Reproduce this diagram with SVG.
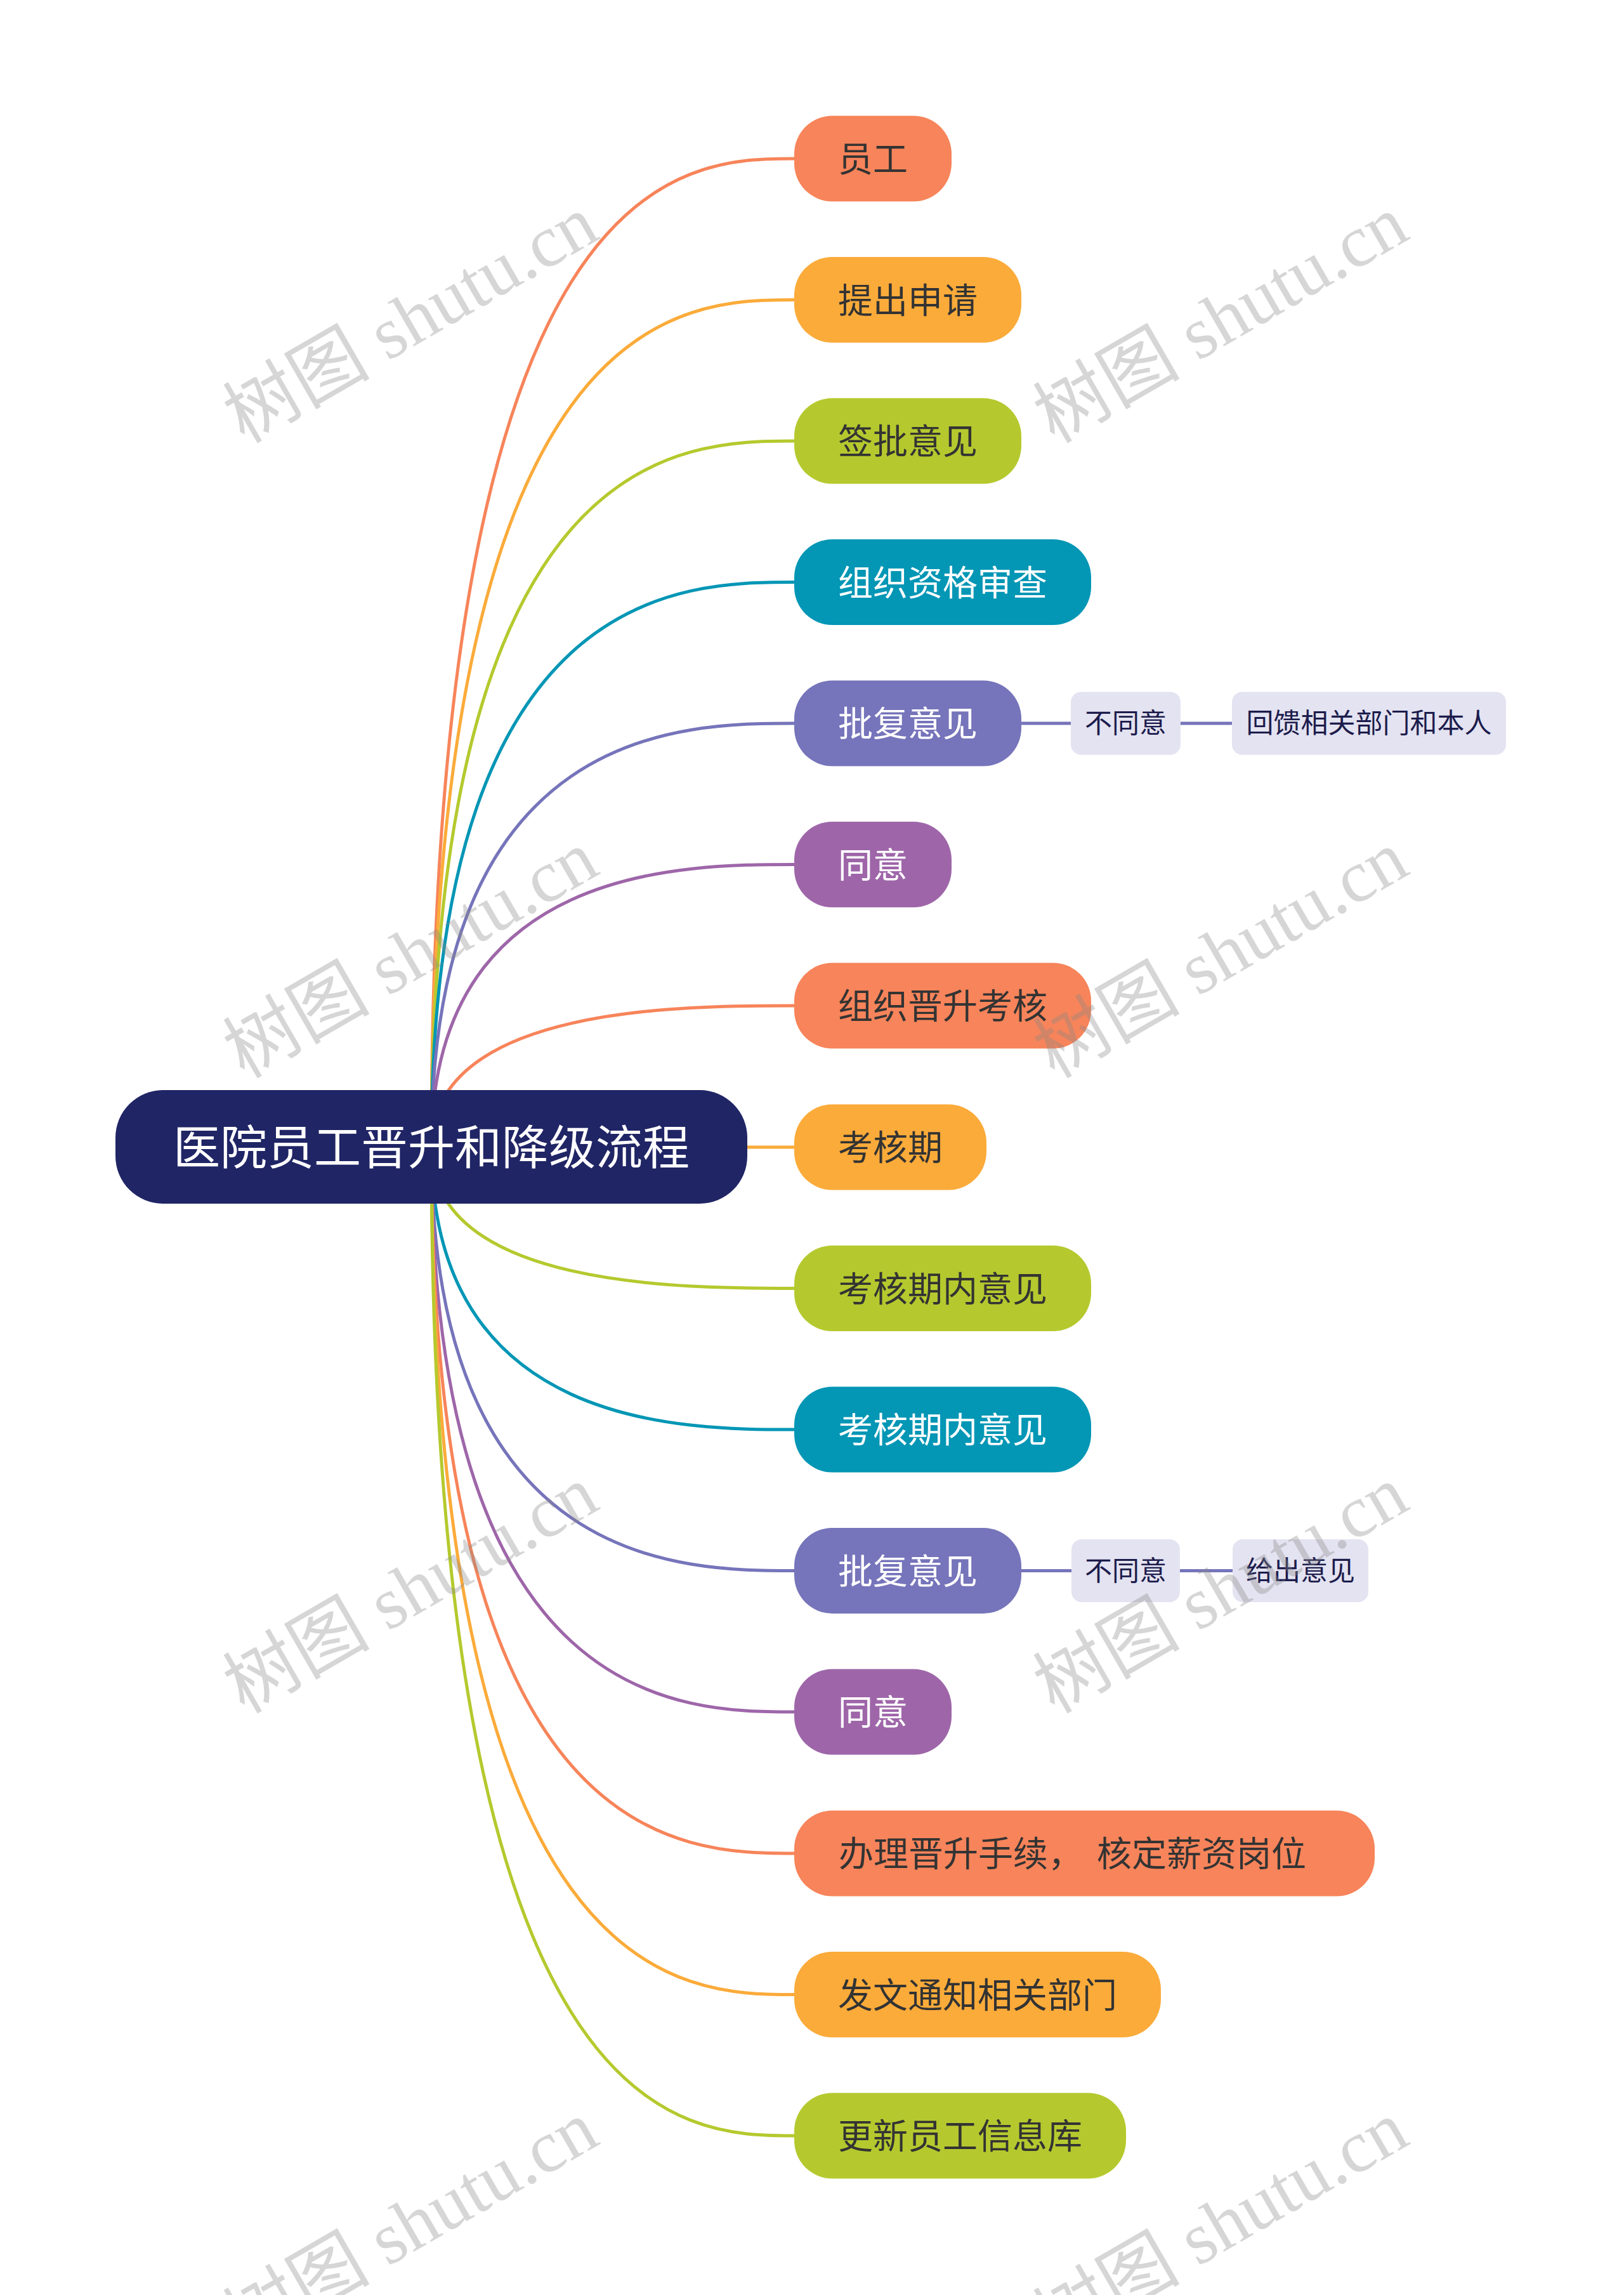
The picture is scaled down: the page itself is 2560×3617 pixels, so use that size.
<svg xmlns="http://www.w3.org/2000/svg" width="2560" height="3617" viewBox="0 0 2560 3617">
<style>
.bg{fill:#ffffff}
.conn{fill:none;stroke-width:5;stroke-linecap:round}
.sub-conn{fill:none;stroke:#7674BA;stroke-width:5}
.node rect{stroke:none}
.t{font-family:"Noto Sans CJK SC","Noto Sans",sans-serif;font-size:55px}
.dark{fill:#333333}
.light{fill:#ffffff}
.root-t{font-family:"Noto Sans CJK SC","Noto Sans",sans-serif;font-size:74px;fill:#ffffff}
.sub rect{fill:#E4E3F1}
.st{font-family:"Noto Sans CJK SC","Noto Sans",sans-serif;font-size:43px;fill:#1c1c4c;text-anchor:middle}
.c1{fill:#F7845A}.s1{stroke:#F7845A}
.c2{fill:#FBAB3A}.s2{stroke:#FBAB3A}
.c3{fill:#B5C92E}.s3{stroke:#B5C92E}
.c4{fill:#0396B5}.s4{stroke:#0396B5}
.c5{fill:#7674BA}.s5{stroke:#7674BA}
.c6{fill:#9E66A9}.s6{stroke:#9E66A9}
.wm{font-family:"Liberation Serif","Noto Sans CJK SC",serif;font-size:116px;fill:#888888;opacity:0.34}
</style>
<rect class="bg" x="0" y="0" width="2560" height="3617"/>

<g id="connectors">
<path class="conn s1" d="M680 1808 C680 250 1077 250 1252 250"/>
<path class="conn s2" d="M680 1808 C680 472.5 1077 472.5 1252 472.5"/>
<path class="conn s3" d="M680 1808 C680 695 1077 695 1252 695"/>
<path class="conn s4" d="M680 1808 C680 917.5 1077 917.5 1252 917.5"/>
<path class="conn s5" d="M680 1808 C680 1140 1077 1140 1252 1140"/>
<path class="conn s6" d="M680 1808 C680 1362.5 1077 1362.5 1252 1362.5"/>
<path class="conn s1" d="M680 1808 C680 1585 1077 1585 1252 1585"/>
<path class="conn s2" d="M680 1808 L1252 1808"/>
<path class="conn s3" d="M680 1808 C680 2030.5 1077 2030.5 1252 2030.5"/>
<path class="conn s4" d="M680 1808 C680 2253 1077 2253 1252 2253"/>
<path class="conn s5" d="M680 1808 C680 2475.5 1077 2475.5 1252 2475.5"/>
<path class="conn s6" d="M680 1808 C680 2698 1077 2698 1252 2698"/>
<path class="conn s1" d="M680 1808 C680 2921 1077 2921 1252 2921"/>
<path class="conn s2" d="M680 1808 C680 3143.5 1077 3143.5 1252 3143.5"/>
<path class="conn s3" d="M680 1808 C680 3366 1077 3366 1252 3366"/>
<line class="sub-conn" x1="1608" y1="1140" x2="1690" y2="1140"/>
<line class="sub-conn" x1="1859" y1="1140" x2="1944" y2="1140"/>
<line class="sub-conn" x1="1608" y1="2475.5" x2="1691" y2="2475.5"/>
<line class="sub-conn" x1="1858" y1="2475.5" x2="1945" y2="2475.5"/>
</g>

<g id="root">
<rect x="182" y="1718" width="996" height="179" rx="75" ry="75" fill="#202565"/>
<text class="root-t" x="680" y="1835" text-anchor="middle">医院员工晋升和降级流程</text>
</g>

<g id="n1" class="node"><rect class="c1" x="1252" y="182.5" width="248" height="135" rx="60"/><text class="t dark" x="1376" y="270" text-anchor="middle">员工</text></g>
<g id="n2" class="node"><rect class="c2" x="1252" y="405" width="358" height="135" rx="60"/><text class="t dark" x="1431" y="492.5" text-anchor="middle">提出申请</text></g>
<g id="n3" class="node"><rect class="c3" x="1252" y="627.5" width="358" height="135" rx="60"/><text class="t dark" x="1431" y="715" text-anchor="middle">签批意见</text></g>
<g id="n4" class="node"><rect class="c4" x="1252" y="850" width="468" height="135" rx="60"/><text class="t light" x="1486" y="937.5" text-anchor="middle">组织资格审查</text></g>
<g id="n5" class="node"><rect class="c5" x="1252" y="1072.5" width="358" height="135" rx="60"/><text class="t light" x="1431" y="1160" text-anchor="middle">批复意见</text></g>
<g id="n6" class="node"><rect class="c6" x="1252" y="1295" width="248" height="135" rx="60"/><text class="t light" x="1376" y="1382.5" text-anchor="middle">同意</text></g>
<g id="n7" class="node"><rect class="c1" x="1252" y="1517.5" width="468" height="135" rx="60"/><text class="t dark" x="1486" y="1605" text-anchor="middle">组织晋升考核</text></g>
<g id="n8" class="node"><rect class="c2" x="1252" y="1740.5" width="303" height="135" rx="60"/><text class="t dark" x="1403.5" y="1828" text-anchor="middle">考核期</text></g>
<g id="n9" class="node"><rect class="c3" x="1252" y="1963" width="468" height="135" rx="60"/><text class="t dark" x="1486" y="2050.5" text-anchor="middle">考核期内意见</text></g>
<g id="n10" class="node"><rect class="c4" x="1252" y="2185.5" width="468" height="135" rx="60"/><text class="t light" x="1486" y="2273" text-anchor="middle">考核期内意见</text></g>
<g id="n11" class="node"><rect class="c5" x="1252" y="2408" width="358" height="135" rx="60"/><text class="t light" x="1431" y="2495.5" text-anchor="middle">批复意见</text></g>
<g id="n12" class="node"><rect class="c6" x="1252" y="2630.5" width="248" height="135" rx="60"/><text class="t light" x="1376" y="2718" text-anchor="middle">同意</text></g>
<g id="n13" class="node"><rect class="c1" x="1252" y="2853.5" width="915" height="135" rx="60"/><text class="t dark" x="1322" y="2941">办理晋升手续， <tspan x="1729">核定薪资岗位</tspan></text></g>
<g id="n14" class="node"><rect class="c2" x="1252" y="3076" width="578" height="135" rx="60"/><text class="t dark" x="1541" y="3163.5" text-anchor="middle">发文通知相关部门</text></g>
<g id="n15" class="node"><rect class="c3" x="1252" y="3298.5" width="523" height="135" rx="60"/><text class="t dark" x="1513.5" y="3386" text-anchor="middle">更新员工信息库</text></g>

<g id="s1" class="sub"><rect x="1688" y="1090.5" width="173" height="99" rx="16"/><text class="st" x="1774.5" y="1155">不同意</text></g>
<g id="s2" class="sub"><rect x="1942" y="1090.5" width="432" height="99" rx="16"/><text class="st" x="2158" y="1155">回馈相关部门和本人</text></g>
<g id="s3" class="sub"><rect x="1689" y="2426" width="171" height="99" rx="16"/><text class="st" x="1774.5" y="2490.5">不同意</text></g>
<g id="s4" class="sub"><rect x="1943" y="2426" width="214" height="99" rx="16"/><text class="st" x="2050" y="2490.5">给出意见</text></g>

<g id="watermarks">
<text class="wm" transform="translate(385 700) rotate(-30)">树图 shutu.cn</text>
<text class="wm" transform="translate(1662 700) rotate(-30)">树图 shutu.cn</text>
<text class="wm" transform="translate(385 1701) rotate(-30)">树图 shutu.cn</text>
<text class="wm" transform="translate(1662 1701) rotate(-30)">树图 shutu.cn</text>
<text class="wm" transform="translate(385 2702) rotate(-30)">树图 shutu.cn</text>
<text class="wm" transform="translate(1662 2702) rotate(-30)">树图 shutu.cn</text>
<text class="wm" transform="translate(385 3703) rotate(-30)">树图 shutu.cn</text>
<text class="wm" transform="translate(1662 3703) rotate(-30)">树图 shutu.cn</text>
</g>
</svg>
